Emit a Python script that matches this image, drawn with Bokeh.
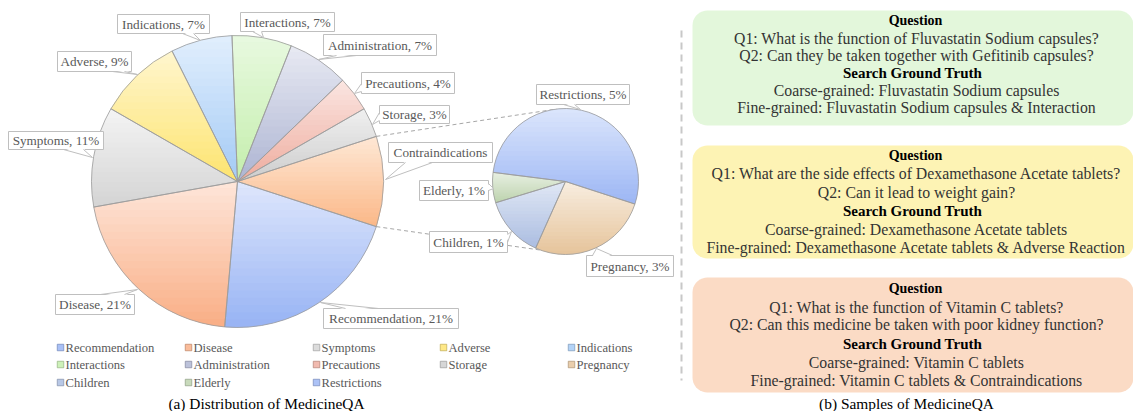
import numpy as np
from bokeh.plotting import figure
from bokeh.models import Range1d, ColumnDataSource
from bokeh.embed import file_html
from bokeh.resources import INLINE
from bokeh.core.properties import value

# ---------------- data ----------------
main_categories = ["Recommendation", "Disease", "Symptoms", "Adverse", "Indications",
                   "Interactions", "Administration", "Precautions", "Storage"]
main_values = [21.4, 20.8, 11.1, 9.3, 6.8, 6.6, 6.8, 3.9, 3.3]
other_name = "Contraindications"
sub_categories = ["Pregnancy", "Children", "Elderly", "Restrictions"]
sub_values = [2.67, 1.36, 0.67, 5.3]
legend_order = ["Recommendation", "Disease", "Symptoms", "Adverse", "Indications",
                "Interactions", "Administration", "Precautions", "Storage", "Pregnancy",
                "Children", "Elderly", "Restrictions"]
caption_a = "(a) Distribution of MedicineQA"
caption_b = "(b) Samples of MedicineQA"
sample_questions = [
    ["Q1: What is the function of Fluvastatin Sodium capsules?",
     "Q2: Can they be taken together with Gefitinib capsules?"],
    ["Q1: What are the side effects of Dexamethasone Acetate tablets?",
     "Q2: Can it lead to weight gain?"],
    ["Q1: What is the function of Vitamin C tablets?",
     "Q2: Can this medicine be taken with poor kidney function?"],
]
sample_truths = [
    ["Coarse-grained: Fluvastatin Sodium capsules",
     "Fine-grained: Fluvastatin Sodium capsules & Interaction"],
    ["Coarse-grained: Dexamethasone Acetate tablets",
     "Fine-grained: Dexamethasone Acetate tablets & Adverse Reaction"],
    ["Coarse-grained: Vitamin C tablets",
     "Fine-grained: Vitamin C tablets & Contraindications"],
]
header_q = "Question"
header_t = "Search Ground Truth"

# ---------------- styles / layout ----------------
W, H = 1133, 411
X0, X1 = 0, 1133
Y0, Y1 = -411, 0
K = (W / (X1 - X0)) / (H / (Y1 - Y0))
FONT = value("Liberation Serif")

grad = {
    "Recommendation": ("#dfe7fc", "#97b3f4"),
    "Disease": ("#fee6da", "#f9ae85"),
    "Symptoms": ("#f4f4f4", "#d4d4d4"),
    "Adverse": ("#fff6cf", "#fde46f"),
    "Indications": ("#e2effd", "#a3caf5"),
    "Interactions": ("#e8f9e0", "#c4eeac"),
    "Administration": ("#e8eaf3", "#adb4d2"),
    "Precautions": ("#fbe6e2", "#eeac9e"),
    "Storage": ("#f0f0f0", "#cdcdcd"),
    "Contraindications": ("#fee8d6", "#fbb888"),
    "Restrictions": ("#dce6fc", "#9cb6f4"),
    "Elderly": ("#e9f0e3", "#bdd3ae"),
    "Children": ("#e1e8f5", "#abbde1"),
    "Pregnancy": ("#f8eee1", "#e6c49b"),
}

main_center, main_r = (237, 181), 146
sub_center, sub_r = (565, 181), 73

# label boxes (ref px): box x0,y0,x1,y1 ; pointer base b0,b1 ; tip
label_geo = {
    "Recommendation": ((323, 308, 458, 328), (345, 308), (378, 308), (320, 302)),
    "Disease": ((55, 294, 134, 314), (100, 294), (124, 294), (137, 289)),
    "Symptoms": ((8, 131, 103, 149), (63, 149), (83, 149), (92, 157)),
    "Adverse": ((57, 51, 131, 71), (112, 71), (124, 71), (137, 74)),
    "Indications": ((117, 14, 209, 33), (182, 33), (193, 33), (200, 40)),
    "Interactions": ((240, 12, 334, 31), (252, 31), (261, 31), (263, 37)),
    "Administration": ((323, 34, 436, 55), (336, 55), (356, 55), (318, 59)),
    "Precautions": ((361, 72, 454, 93), (361, 83), (361, 91), (354, 93)),
    "Storage": ((379, 105, 449, 123), (379, 112), (379, 120), (372, 124)),
    "Contraindications": ((388, 142, 492, 162), (405, 162), (432, 162), (385, 179)),
    "Pregnancy": ((586, 255, 673, 276), (592, 255), (612, 255), (596, 248)),
    "Children": ((429, 231, 507, 252), (507, 234), (507, 242), (511, 231)),
    "Elderly": ((419, 180, 488, 200), (488, 183), (488, 190), (493, 188)),
    "Restrictions": ((536, 84, 629, 104), (563, 104), (574, 104), (580, 109)),
}


def Y(y):
    return -y


def hex2rgb(h):
    h = h.lstrip("#")
    return np.array([int(h[i:i + 2], 16) for i in (0, 2, 4)], dtype=float)


def rgb2hex(c):
    c = np.clip(np.round(c), 0, 255).astype(int)
    return "#%02x%02x%02x" % tuple(c)


def mix(a, b, t):
    return rgb2hex(hex2rgb(a) * (1 - t) + hex2rgb(b) * t)


def clip_half(poly, y0, keep_below):
    out = []
    n = len(poly)
    for i in range(n):
        P = poly[i - 1]
        Q = poly[i]
        inP = P[1] <= y0 if keep_below else P[1] >= y0
        inQ = Q[1] <= y0 if keep_below else Q[1] >= y0
        if inQ:
            if not inP:
                t = (y0 - P[1]) / (Q[1] - P[1])
                out.append((P[0] + t * (Q[0] - P[0]), y0))
            out.append(Q)
        elif inP:
            t = (y0 - P[1]) / (Q[1] - P[1])
            out.append((P[0] + t * (Q[0] - P[0]), y0))
    return out


p = figure(width=W, height=H, x_range=Range1d(X0, X1), y_range=Range1d(Y0, Y1),
           output_backend="svg", toolbar_location=None, min_border=0,
           x_axis_location=None, y_axis_location=None)
p.grid.visible = False
p.outline_line_color = None
p.background_fill_color = "white"
p.border_fill_color = "white"

# ---------------- right sample boxes ----------------
box_rects = [(692, 10, 1133, 125), (692, 145, 1133, 258), (692, 277, 1133, 392)]
box_colors = ["#e3f7db", "#fdf3b4", "#fbdbc5"]


def rounded(x0, y0, x1, y1, r):
    pts = []
    corners = [(x1 - r, y0 + r, -90, 0), (x1 - r, y1 - r, 0, 90),
               (x0 + r, y1 - r, 90, 180), (x0 + r, y0 + r, 180, 270)]
    for cx, cy, a0, a1 in corners:
        for a in np.linspace(np.radians(a0), np.radians(a1), 10):
            pts.append((cx + r * np.cos(a), cy + r * np.sin(a)))
    return [q[0] for q in pts], [Y(q[1]) for q in pts]


bx, by = [], []
for (x0, y0, x1, y1) in box_rects:
    xs, ys = rounded(x0, y0, x1, y1, 15)
    bx.append(xs)
    by.append(ys)
p.patches(bx, by, fill_color=box_colors, line_color=None)

line_offsets = [[20, 38, 55, 72, 90, 107], [155, 173, 192, 210, 229, 247],
                [288, 307, 324, 343, 362, 380]]
qx, qy, qt_, hx, hy, ht, nx, ny, nt = [], [], [], [], [], [], [], [], []
for i in range(3):
    ys = line_offsets[i]
    qx.append(915); qy.append(Y(ys[0])); qt_.append(header_q)
    hx.append(912); hy.append(Y(ys[3])); ht.append(header_t)
    nx += [916] * 4
    ny += [Y(ys[1]), Y(ys[2]), Y(ys[4]), Y(ys[5])]
    nt += sample_questions[i] + sample_truths[i]
p.text(x=qx, y=qy, text=qt_, text_font=FONT, text_font_size="14px", text_font_style="bold",
       text_color="#000000", text_align="center", text_baseline="middle")
p.text(x=hx, y=hy, text=ht, text_font=FONT, text_font_size="15px", text_font_style="bold",
       text_color="#000000", text_align="center", text_baseline="middle")
p.text(x=nx, y=ny, text=nt, text_font=FONT, text_font_size="15.8px",
       text_color="#333333", text_align="center", text_baseline="middle")

# divider
p.line(x=[681, 681], y=[Y(30), Y(380)], line_color="#c8c8c8", line_width=2, line_dash="7 5")

# ---------------- pies ----------------
main_all = main_categories + [other_name]
main_vals_all = main_values + [float(sum(sub_values))]
total = float(sum(main_vals_all))
theta0 = -np.pi * main_vals_all[-1] / total


def slices(vals, start):
    tot = float(sum(vals))
    cum = np.concatenate([[0.0], np.cumsum(vals)]) / tot
    a_start = start - 2 * np.pi * cum[:-1]
    a_end = start - 2 * np.pi * cum[1:]
    return a_end, a_start  # anticlock from a_end to a_start


m_lo, m_hi = slices(main_vals_all, theta0)
s_lo, s_hi = slices(sub_values, theta0)

# connectors
cx, cy = main_center
scx, scy = sub_center
conn_main = [theta0 + 2 * np.pi * main_vals_all[-1] / total, theta0]
conn_sub = [np.radians(97), np.radians(250)]
p.segment(x0=[cx + main_r * np.cos(a) for a in conn_main],
          y0=[Y(cy) + main_r * K * np.sin(a) for a in conn_main],
          x1=[scx + sub_r * np.cos(a) for a in conn_sub],
          y1=[Y(scy) + sub_r * K * np.sin(a) for a in conn_sub],
          line_color="#a6a6a6", line_width=1, line_dash="4 3")


def draw_pie(names, lo, hi, center, r):
    c0, c1 = center
    src = ColumnDataSource(dict(x=[c0] * len(names), y=[Y(c1)] * len(names),
                                start=lo, end=hi, name=names,
                                color=[mix(grad[n][0], grad[n][1], 0.5) for n in names]))
    p.wedge(x="x", y="y", radius=r, start_angle="start", end_angle="end", source=src,
            fill_color="color", line_color=None)
    pxs, pys, pcs = [], [], []
    for n, a0, a1 in zip(names, lo, hi):
        ts = np.linspace(a0, a1, max(8, int(abs(a1 - a0) * 60)))
        poly = [(c0, Y(c1))] + [(c0 + r * np.cos(t), Y(c1) + r * K * np.sin(t)) for t in ts]
        ymax = max(q[1] for q in poly)
        ymin = min(q[1] for q in poly)
        nb = 20
        h = (ymax - ymin) / nb
        for j in range(nb):
            top = ymax - j * h + (0.0 if j == 0 else 0.6)
            bot = ymax - (j + 1) * h
            part = clip_half(poly, top, True)
            if len(part) < 3:
                continue
            part = clip_half(part, bot, False)
            if len(part) < 3:
                continue
            pxs.append([q[0] for q in part])
            pys.append([q[1] for q in part])
            pcs.append(mix(grad[n][0], grad[n][1], (j + 0.5) / nb))
    p.patches(pxs, pys, fill_color=pcs, line_color=None)
    p.wedge(x="x", y="y", radius=r, start_angle="start", end_angle="end", source=src,
            fill_color=None, line_color="#9c9c9c", line_width=0.8)


draw_pie(main_all, m_lo, m_hi, main_center, main_r)
draw_pie(sub_categories, s_lo, s_hi, sub_center, sub_r)

# ---------------- callouts ----------------
all_names = main_all + sub_categories
all_vals = main_vals_all + list(sub_values)
labels = []
for n, v in zip(all_names, all_vals):
    if n == other_name:
        labels.append(n)
    else:
        labels.append("%s, %d%%" % (n, int(v + 0.5)))

ql, qr, qtop, qb = [], [], [], []
tri_x, tri_y, side_x, side_y = [], [], [], []
tx_, ty_ = [], []
for n in all_names:
    (x0, y0, x1, y1), b0, b1, tip = label_geo[n]
    ql.append(x0); qr.append(x1); qtop.append(Y(y0)); qb.append(Y(y1))
    mx, my = (x0 + x1) / 2, (y0 + y1) / 2

    def inward(b):
        bx_, by_ = b
        if abs(by_ - y1) < 0.01:
            by_ -= 1.2
        elif abs(by_ - y0) < 0.01:
            by_ += 1.2
        elif abs(bx_ - x0) < 0.01:
            bx_ += 1.2
        elif abs(bx_ - x1) < 0.01:
            bx_ -= 1.2
        return bx_, by_
    i0, i1 = inward(b0), inward(b1)
    tri_x.append([i0[0], i1[0], tip[0]])
    tri_y.append([Y(i0[1]), Y(i1[1]), Y(tip[1])])
    side_x += [[b0[0], tip[0]], [b1[0], tip[0]]]
    side_y += [[Y(b0[1]), Y(tip[1])], [Y(b1[1]), Y(tip[1])]]
    tx_.append(mx); ty_.append(Y(my))

p.quad(left=ql, right=qr, top=qtop, bottom=qb, fill_color="white", line_color="#bfbfbf",
       line_width=1)
p.patches(tri_x, tri_y, fill_color="white", line_color=None)
p.multi_line(side_x, side_y, line_color="#bfbfbf", line_width=1)
p.text(x=tx_, y=ty_, text=labels, text_font=FONT, text_font_size="13.2px",
       text_color="#595959", text_align="center", text_baseline="middle")

# ---------------- legend ----------------
leg_cols = [60, 188, 316, 443, 571]
leg_rows = [347, 364, 382]
lx, ly, lc, le, lt, ltx = [], [], [], [], [], []
for i, n in enumerate(legend_order):
    r_, c_ = divmod(i, 5)
    lx.append(leg_cols[c_]); ly.append(Y(leg_rows[r_]))
    lc.append(mix(grad[n][0], grad[n][1], 0.75))
    le.append(mix(grad[n][1], "#000000", 0.25))
    lt.append(n); ltx.append(leg_cols[c_] + 5)
p.scatter(x=lx, y=ly, marker="square", size=6.5, fill_color=lc, line_color=le, line_width=0.7)
p.text(x=ltx, y=ly, text=lt, text_font=FONT, text_font_size="12.6px", text_color="#595959",
       text_align="left", text_baseline="middle")

# ---------------- captions ----------------
p.text(x=[266, 906], y=[Y(403), Y(403)], text=[caption_a, caption_b], text_font=FONT,
       text_font_size="15.4px", text_color="#000000", text_align="center",
       text_baseline="middle")

open("out.html", "w").write(file_html(p, INLINE))
